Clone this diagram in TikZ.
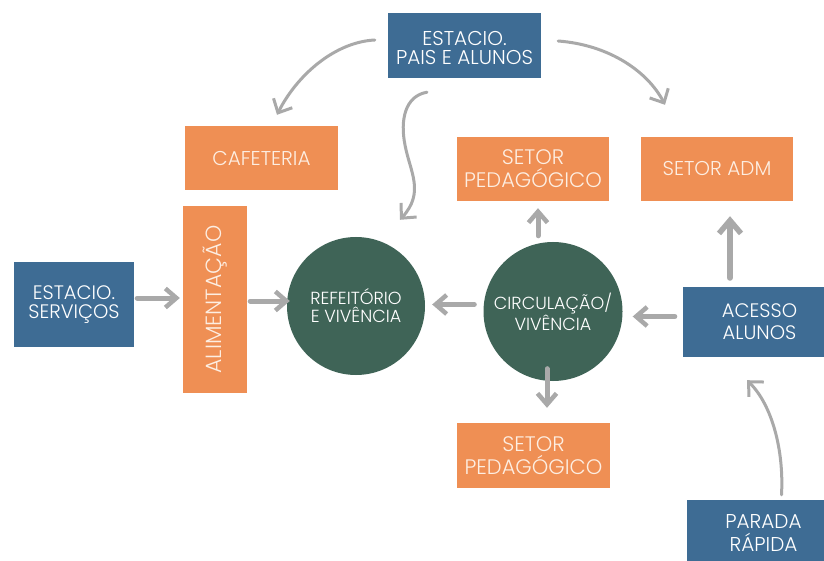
\documentclass[tikz,border=0pt]{standalone}
\usepackage{fontspec}
\setmainfont{Poppins}[UprightFont=* Light]
\usetikzlibrary{arrows.meta}
\definecolor{cblue}{HTML}{3E6C94}
\definecolor{corange}{HTML}{EF8F54}
\definecolor{cgreen}{HTML}{3F6457}
\definecolor{cgray}{HTML}{A9A9A9}
\definecolor{ccream}{HTML}{FDEEE2}
\newcommand{\fs}[2]{\fontsize{#1}{#2}\selectfont}
\begin{document}
\begin{tikzpicture}[x=1pt,y=-1pt,
  box/.style={rectangle, inner sep=0pt, align=center, text=white,
    font=\fs{20}{20}},
  bluebox/.style={box, fill=cblue},
  orbox/.style={box, fill=corange, text=ccream},
  circ/.style={circle, fill=cgreen, inner sep=0pt, minimum size=138pt,
    align=center, text=white, font=\fs{17.5}{18}},
  thickarr/.style={cgray, line width=5pt, line cap=round,
    -{Straight Barb[length=11pt,width=19pt,line width=4.5pt]}},
  thinarr/.style={cgray, line width=3pt, line cap=round,
    -{Straight Barb[length=11pt,width=21pt,line width=3pt]}}]
\useasboundingbox (0,0) rectangle (824,561);
\clip (0,0) rectangle (824,561);
\fill[white] (0,0) rectangle (824,561);

% boxes
\node[bluebox, minimum width=153pt, minimum height=65pt] (pais) at (464.5,45.5) {};
\node[text=white, align=center, font=\fs{20}{19.5}] (paistxt) at (464.5,48) {ESTACIO.\\PAIS E ALUNOS};
\node[orbox, minimum width=153pt, minimum height=64pt, font=\fs{20}{20}] (cafe) at (261.5,158) {CAFETERIA};
\node[orbox, minimum width=152pt, minimum height=64pt, font=\fs{21}{23}] (pedtop) at (533,169) {SETOR\\PEDAGÓGICO};
\node[orbox, minimum width=152pt, minimum height=64pt, font=\fs{20}{20}] (adm) at (717,169) {SETOR ADM};
\node[orbox, minimum width=64pt, minimum height=187pt] (alim) at (215,299.5) {};
\node[text=ccream, font=\fs{22}{22}, rotate=90] (alimtxt) at (alim.center) {ALIMENTAÇÃO};
\node[bluebox, minimum width=120pt, minimum height=85pt, font=\fs{19.5}{18.5}] (serv) at (74,304.5) {ESTACIO.\\SERVIÇOS};
\node[circ] (refe) at (356,306) {REFEITÓRIO\\E VIVÊNCIA};
\node[circ, minimum size=139pt] (circ) at (553,311.5) {CIRCULAÇÃO/\\VIVÊNCIA};
\node[bluebox, minimum width=153pt, minimum height=70pt, font=\fs{19.5}{22}] (acesso) at (759.5,322) {ACESSO\\ALUNOS};
\node[orbox, minimum width=153pt, minimum height=65pt, font=\fs{21}{23}] (pedbot) at (533.5,455.5) {SETOR\\PEDAGÓGICO};
\node[bluebox, minimum width=153pt, minimum height=66pt, font=\fs{20}{23}] (parada) at (763.5,533) {PARADA\\RÁPIDA};

% straight arrows
\draw[thickarr, shorten <=3pt, shorten >=3pt]
  ([yshift=6.5pt]serv.east) -- ([yshift=6.5pt]serv.east -| alim.west);
\draw[thickarr, shorten <=3pt, shorten >=-3pt]
  ([yshift=-1.5pt]alim.east) -- ([yshift=-1.5pt]alim.east -| refe.west);
\draw[thickarr, shorten <=9pt, shorten >=7pt]
  ([yshift=7pt]circ.west) -- ([yshift=7pt]circ.west -| refe.east);
\draw[thickarr, shorten <=8pt, shorten >=10pt]
  ([yshift=5.5pt]acesso.west) -- ([yshift=5.5pt]acesso.west -| circ.east);
\draw[thickarr, shorten <=6pt, shorten >=7pt]
  ([xshift=-15pt]circ.north) -- ([xshift=-15pt]circ.north |- pedtop.south);
\draw[thickarr, shorten <=-12.5pt, shorten >=15pt]
  ([xshift=-6pt]circ.south) -- ([xshift=-6pt]circ.south |- pedbot.north);
\draw[thickarr, line width=6pt, shorten <=9pt, shorten >=15pt,
  -{Straight Barb[length=13pt,width=22pt,line width=5.5pt]}]
  ([xshift=13pt]adm.south |- acesso.north) -- ([xshift=13pt]adm.south);

% curved arrows
\draw[thinarr] ([shift={(-13pt,5.5pt)}]pais.west)
  .. controls (335,42) and (297,75) .. ([shift={(15.5pt,11pt)}]cafe.north);
\draw[thinarr] ([shift={(17pt,4.5pt)}]pais.east)
  .. controls (610,45) and (648,72) .. ([shift={(-52pt,32pt)}]adm.north);
\draw[thinarr] ([shift={(-37.5pt,-14pt)}]pais.south)
  .. controls (405,96) and (400,120) .. (405,145)
  .. controls (410,172) and (425,192) .. ([shift={(44pt,17pt)}]refe.north);
\draw[thinarr] ([shift={(18pt,5pt)}]parada.north)
  .. controls (784,450) and (772,405) .. ([shift={(-12.5pt,-23pt)}]acesso.south);
\end{tikzpicture}
\end{document}
